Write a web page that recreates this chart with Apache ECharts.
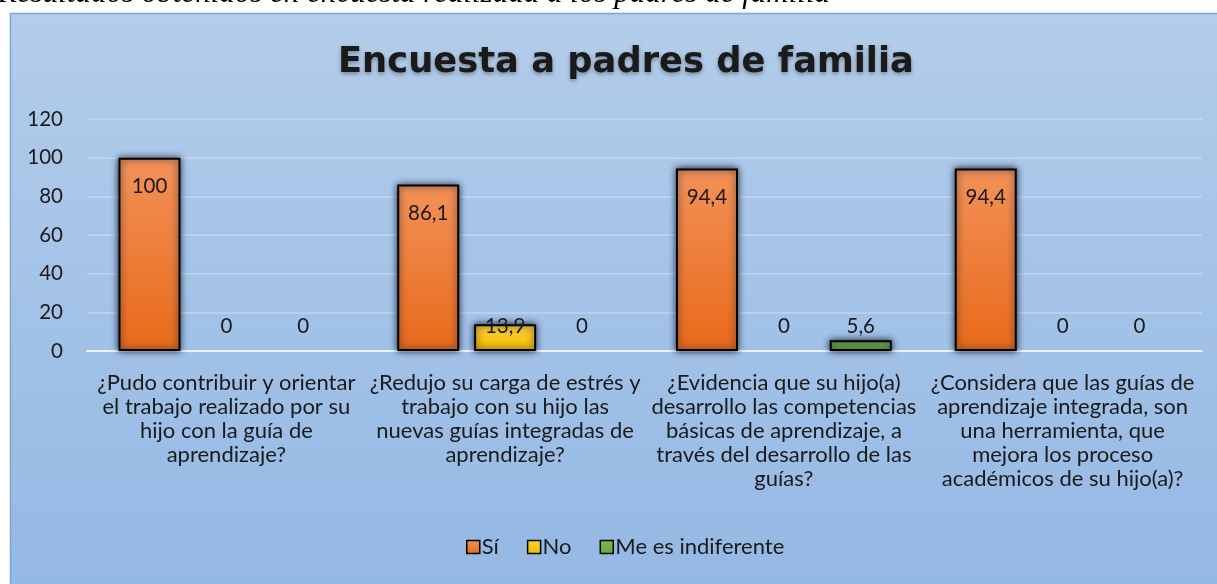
<!DOCTYPE html>
<html>
<head>
<meta charset="utf-8">
<script src="https://cdn.jsdelivr.net/npm/echarts@6/dist/echarts.min.js"></script>
<style>
html,body{margin:0;padding:0;background:#fff;}
#c{width:1217px;height:584px;}
</style>
</head>
<body>
<div id="c"></div>
<script>
var captionText = 'Resultados obtenidos en encuesta realizada a los padres de familia';
var titleText = 'Encuesta a padres de familia';
var categories = [
  '¿Pudo contribuir y orientar\nel trabajo realizado por su\nhijo con la guía de\naprendizaje?',
  '¿Redujo su carga de estrés y\ntrabajo con su hijo las\nnuevas guías integradas de\naprendizaje?',
  '¿Evidencia que su hijo(a)\ndesarrollo las competencias\nbásicas de aprendizaje, a\ntravés del desarrollo de las\nguías?',
  '¿Considera que las guías de\naprendizaje integrada, son\nuna herramienta, que\nmejora los proceso\nacadémicos de su hijo(a)?'
];
var seriesNames = ['Sí', 'No', 'Me es indiferente'];
var valuesSi = [100, 86.1, 94.4, 94.4];
var valuesNo = [0, 13.9, 0, 0];
var valuesIndif = [0, 0, 5.6, 0];
var yTicks = {min: 0, max: 120, interval: 20};

var FONT = 'Lato';
function grad(top, bottom) {
  return new echarts.graphic.LinearGradient(0, 0, 0, 1, [
    {offset: 0, color: top}, {offset: 1, color: bottom}
  ]);
}
function fmt(p) { return String(p.value).replace('.', ','); }
function mkData(arr) {
  return arr.map(function (v) {
    return v === 0 ? {value: v, itemStyle: {color: 'transparent', borderColor: 'transparent', borderWidth: 0, shadowBlur: 0, shadowColor: 'transparent'}} : v;
  });
}
var baseItem = {borderColor: '#000', borderWidth: 2, shadowColor: 'rgba(20,30,50,1)', shadowBlur: 7};
var numLabel = {fontFamily: FONT, fontSize: 20.5, color: '#1a1a1a'};

var chart = echarts.init(document.getElementById('c'), null, {renderer: 'canvas'});
chart.setOption({
  animation: false,
  backgroundColor: '#ffffff',
  textStyle: {fontFamily: FONT},
  graphic: [
    {type: 'rect', z: -10, shape: {x: 10.5, y: 13.5, width: 1220, height: 600},
      style: {fill: grad('#b3cdea', '#93b7e4'), stroke: '#7aa5d9', lineWidth: 1.5}},
    {type: 'text', z: 5, style: {text: captionText, x: -2, y: 9, align: 'left', verticalAlign: 'bottom',
      font: 'italic 31px "Liberation Serif"', fill: '#000'}}
  ],
  title: {
    text: titleText, left: 333, top: 40,
    textStyle: {fontFamily: 'DejaVu Sans', fontWeight: 'bold', fontSize: 35.3, color: '#1a1a1a',
      textShadowColor: 'rgba(0,0,0,0.35)', textShadowBlur: 4, textShadowOffsetY: 2}
  },
  legend: {
    bottom: 21, left: 461, itemWidth: 13, itemHeight: 13, itemGap: 28,
    icon: 'rect',
    itemStyle: {shadowBlur: 0, borderWidth: 1.5, borderColor: '#000'},
    textStyle: {fontFamily: FONT, fontSize: 22, color: '#1a1a1a', padding: [0, 0, 0, -3]},
    data: seriesNames
  },
  grid: {left: 87, right: 15, top: 119, bottom: 233, containLabel: false},
  xAxis: {
    type: 'category', data: categories,
    axisTick: {show: false},
    axisLine: {show: true, lineStyle: {color: 'rgba(255,255,255,0.75)', width: 2}},
    axisLabel: {interval: 0, margin: 20, fontFamily: FONT, fontSize: 22, lineHeight: 24, color: '#1a1a1a'}
  },
  yAxis: {
    type: 'value', min: yTicks.min, max: yTicks.max, interval: yTicks.interval,
    axisLine: {show: false}, axisTick: {show: false},
    axisLabel: {margin: 24, fontFamily: FONT, fontSize: 20.5, color: '#1a1a1a'},
    splitLine: {lineStyle: {color: 'rgba(255,255,255,0.3)', width: 1.5}}
  },
  series: [
    {name: seriesNames[0], type: 'bar', data: mkData(valuesSi), barWidth: 62, barGap: '24%',
      itemStyle: Object.assign({color: grad('#f39159', '#e86a1a')}, baseItem),
      label: Object.assign({show: true, position: 'insideTop', distance: 18, formatter: fmt}, numLabel)},
    {name: seriesNames[1], type: 'bar', data: mkData(valuesNo), barWidth: 62,
      itemStyle: Object.assign({color: grad('#ffcf3a', '#f2bd00')}, baseItem),
      label: Object.assign({show: true, position: 'insideBottom', distance: 14, formatter: fmt}, numLabel)},
    {name: seriesNames[2], type: 'bar', data: mkData(valuesIndif), barWidth: 62,
      itemStyle: Object.assign({color: grad('#7bb654', '#6aa73f')}, baseItem),
      label: Object.assign({show: true, position: 'insideBottom', distance: 14, formatter: fmt}, numLabel)}
  ]
});
</script>
</body>
</html>
